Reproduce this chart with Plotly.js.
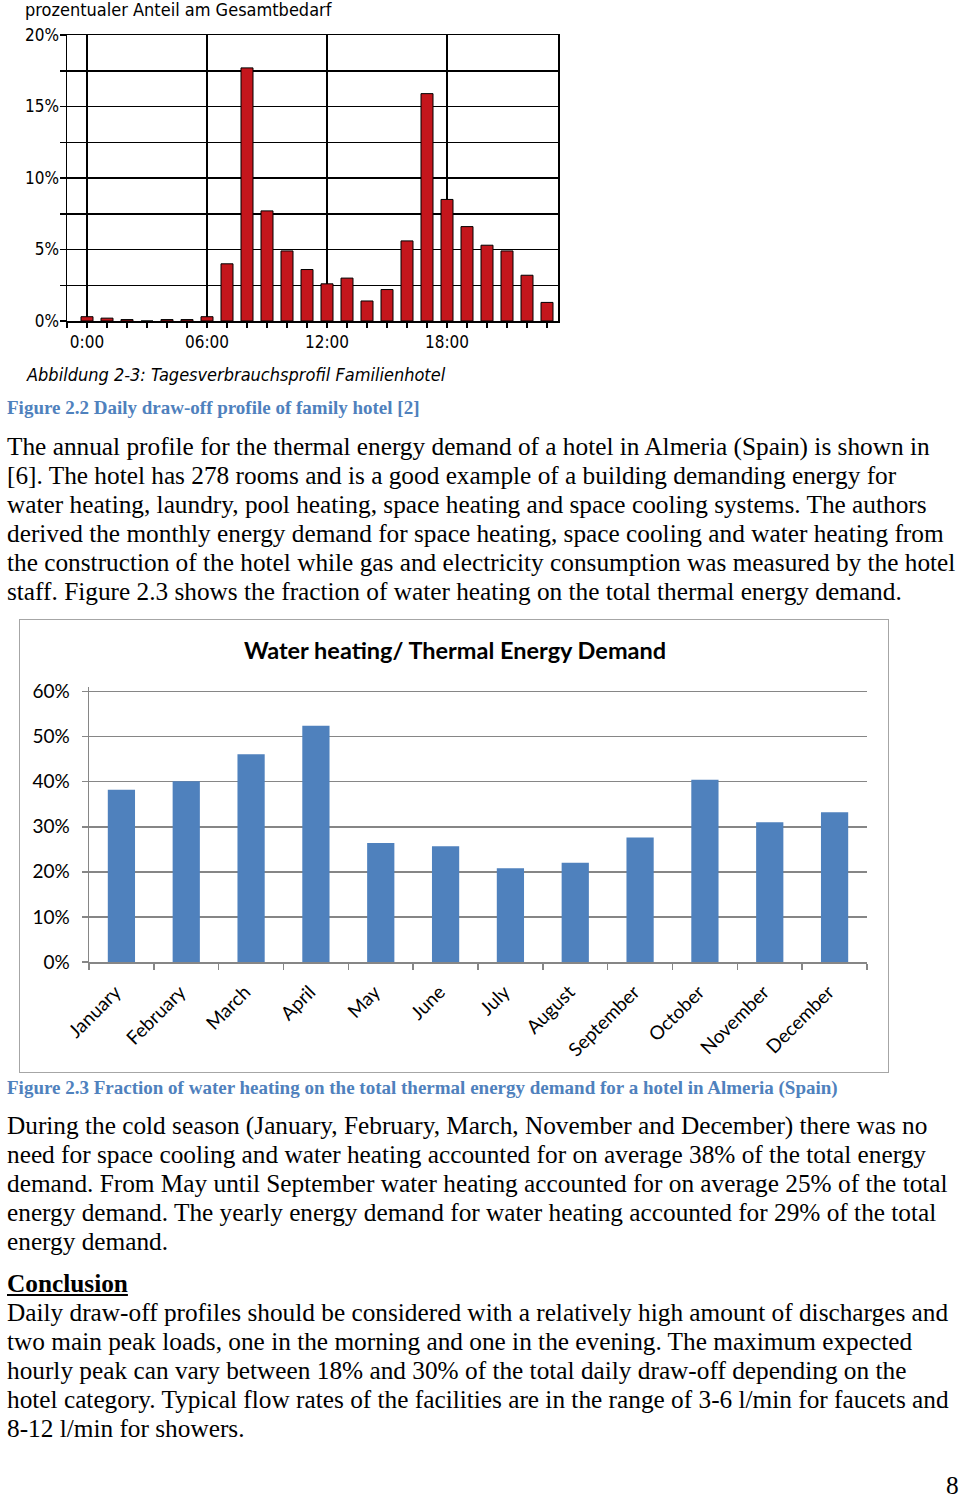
<!DOCTYPE html>
<html>
<head>
<meta charset="utf-8">
<script src="https://cdn.plot.ly/plotly-3.0.1.min.js"></script>
<style>
  html, body { margin: 0; padding: 0; background: #fff; }
  body { width: 960px; height: 1498px; position: relative; overflow: hidden; }
  .txt { position: absolute; left: 7px; font-family: "Liberation Serif", "Times New Roman", serif; font-size: 25.3px; line-height: 29px; color: #000; white-space: nowrap; }
  .cap { position: absolute; left: 7px; font-family: "Liberation Serif", "Times New Roman", serif; font-size: 19px; font-weight: bold; color: #4f81bd; white-space: nowrap; line-height: 20px; }
  #c1 { position: absolute; left: 0; top: 0; width: 580px; height: 400px; }
  #box2 { position: absolute; left: 19px; top: 619px; width: 868px; height: 452px; border: 1.5px solid #a6a6a6; }
  #c2 { position: absolute; left: 0; top: 0; width: 868px; height: 452px; }
</style>
</head>
<body>
<div id="c1"></div>
<div class="cap" style="top:398px;">Figure 2.2 Daily draw-off profile of family hotel [2]</div>
<div class="txt" style="top:432px;">The annual profile for the thermal energy demand of a hotel in Almeria (Spain) is shown in<br>[6]. The hotel has 278 rooms and is a good example of a building demanding energy for<br>water heating, laundry, pool heating, space heating and space cooling systems. The authors<br>derived the monthly energy demand for space heating, space cooling and water heating from<br>the construction of the hotel while gas and electricity consumption was measured by the hotel<br>staff. Figure 2.3 shows the fraction of water heating on the total thermal energy demand.</div>
<div id="box2"><div id="c2"></div></div>
<div class="cap" style="top:1078px;">Figure 2.3 Fraction of water heating on the total thermal energy demand for a hotel in Almeria (Spain)</div>
<div class="txt" style="top:1111px;">During the cold season (January, February, March, November and December) there was no<br>need for space cooling and water heating accounted for on average 38% of the total energy<br>demand. From May until September water heating accounted for on average 25% of the total<br>energy demand. The yearly energy demand for water heating accounted for 29% of the total<br>energy demand.</div>
<div class="txt" style="top:1269px;font-weight:bold;text-decoration:underline;">Conclusion</div>
<div class="txt" style="top:1298px;">Daily draw-off profiles should be considered with a relatively high amount of discharges and<br>two main peak loads, one in the morning and one in the evening. The maximum expected<br>hourly peak can vary between 18% and 30% of the total daily draw-off depending on the<br>hotel category. Typical flow rates of the facilities are in the range of 3-6 l/min for faucets and<br>8-12 l/min for showers.</div>
<div class="txt" style="top:1471px;left:946px;">8</div>
<script>
// ---- Chart 1: daily draw-off profile (hour of day, % of total demand)
const hours = [0,1,2,3,4,5,6,7,8,9,10,11,12,13,14,15,16,17,18,19,20,21,22,23];
const hourlyShare = [0.3,0.2,0.1,0.0,0.1,0.1,0.3,4.0,17.7,7.7,4.9,3.6,2.6,3.0,1.4,2.2,5.6,15.9,8.5,6.6,5.3,4.9,3.2,1.3];
const hourTickVals = [0,6,12,18];
const hourTickText = ['0:00','06:00','12:00','18:00'];
const shareTickVals = [0,2.5,5,7.5,10,12.5,15,17.5,20];
const shareTickText = ['0%','','5%','','10%','','15%','','20%'];
const chart1Title = 'prozentualer Anteil am Gesamtbedarf';
const chart1Caption = 'Abbildung 2-3: Tagesverbrauchsprofil Familienhotel';

// ---- Chart 2: water heating / thermal energy demand by month (%)
const months = ['January','February','March','April','May','June','July','August','September','October','November','December'];
const waterShare = [38.2,40.1,46.1,52.4,26.4,25.7,20.8,22.0,27.6,40.4,31.0,33.2];
const waterTickVals = [0,10,20,30,40,50,60];
const waterTickText = ['0%','10%','20%','30%','40%','50%','60%'];
const chart2Title = 'Water heating/ Thermal Energy Demand';

const narrow = '"Liberation Sans Narrow", "DejaVu Sans Condensed", "Arial Narrow", sans-serif';

Plotly.newPlot('c1', [{
  type: 'bar', x: hours, y: hourlyShare, width: 0.6,
  marker: { color: '#c4161c', line: { color: '#000', width: 1 } },
  hoverinfo: 'skip'
}], {
  width: 580, height: 400,
  margin: { l: 67, r: 22, t: 35, b: 79 },
  paper_bgcolor: '#fff', plot_bgcolor: '#fff',
  showlegend: false,
  font: { family: narrow, color: '#000', size: 17 },
  title: { text: chart1Title, xref: 'container', yref: 'container', x: 25/580, xanchor: 'left', y: 1 - 10/400, yanchor: 'middle', font: { family: narrow, size: 18, color: '#000' } },
  xaxis: {
    range: [-1.0, 23.55], tickmode: 'array', tickvals: hourTickVals, ticktext: hourTickText,
    showgrid: true, gridcolor: '#000', gridwidth: 1.5,
    ticks: 'outside', ticklen: 5, tickcolor: '#000', tickwidth: 1.2,
    minor: { tick0: 0, dtick: 1, ticks: 'outside', ticklen: 5, tickcolor: '#000', tickwidth: 1.2, showgrid: false },
    showline: true, linecolor: '#000', linewidth: 1.5, mirror: true, zeroline: false,
    tickfont: { family: narrow, size: 17 }
  },
  yaxis: {
    range: [0, 20], tickmode: 'array', tickvals: shareTickVals, ticktext: shareTickText,
    showgrid: true, gridcolor: '#000', gridwidth: 1.5,
    ticks: 'outside', ticklen: 6, tickcolor: '#000', tickwidth: 1.5, ticklabelstandoff: -3,
    showline: true, linecolor: '#000', linewidth: 1.5, mirror: true, zeroline: false,
    tickfont: { family: narrow, size: 17 }
  },
  annotations: [{
    text: chart1Caption, xref: 'paper', yref: 'paper', x: (24-67)/491, y: (321-374)/286,
    xanchor: 'left', yanchor: 'middle', showarrow: false,
    font: { family: narrow, size: 18, color: '#000', style: 'italic' }
  }]
}, { staticPlot: true });

const lato = 'Lato, "Open Sans", sans-serif';
Plotly.newPlot('c2', [{
  type: 'bar', x: months, y: waterShare,
  marker: { color: '#4f81bd' }, hoverinfo: 'skip'
}], {
  width: 868, height: 452,
  margin: { l: 69, r: 21, t: 66.5, b: 110 },
  bargap: 0.58,
  paper_bgcolor: 'rgba(0,0,0,0)', plot_bgcolor: 'rgba(0,0,0,0)',
  showlegend: false,
  font: { family: lato, color: '#000', size: 19 },
  title: { text: chart2Title, xref: 'container', yref: 'container', x: (454-19)/868, xanchor: 'center', y: 1 - (650-619)/452, yanchor: 'middle', font: { family: lato, size: 23.5, color: '#000', weight: 'bold' } },
  xaxis: {
    type: 'category', tickangle: -45, tickson: 'boundaries',
    ticks: 'outside', ticklen: 6, tickcolor: '#868686', tickwidth: 1.5,
    ticklabelstandoff: 10, ticklabelshift: -6,
    showline: true, linecolor: '#868686', linewidth: 1.5, showgrid: false,
    tickfont: { family: lato, size: 19 }
  },
  yaxis: {
    range: [0, 61], tickmode: 'array', tickvals: waterTickVals, ticktext: waterTickText,
    showgrid: true, gridcolor: '#868686', gridwidth: 1.5,
    ticks: 'outside', ticklen: 6, tickcolor: '#868686', tickwidth: 1.5, ticklabelstandoff: 8,
    showline: true, linecolor: '#868686', linewidth: 1.5, zeroline: false,
    tickfont: { family: lato, size: 19 }
  }
}, { staticPlot: true });
</script>
</body>
</html>
